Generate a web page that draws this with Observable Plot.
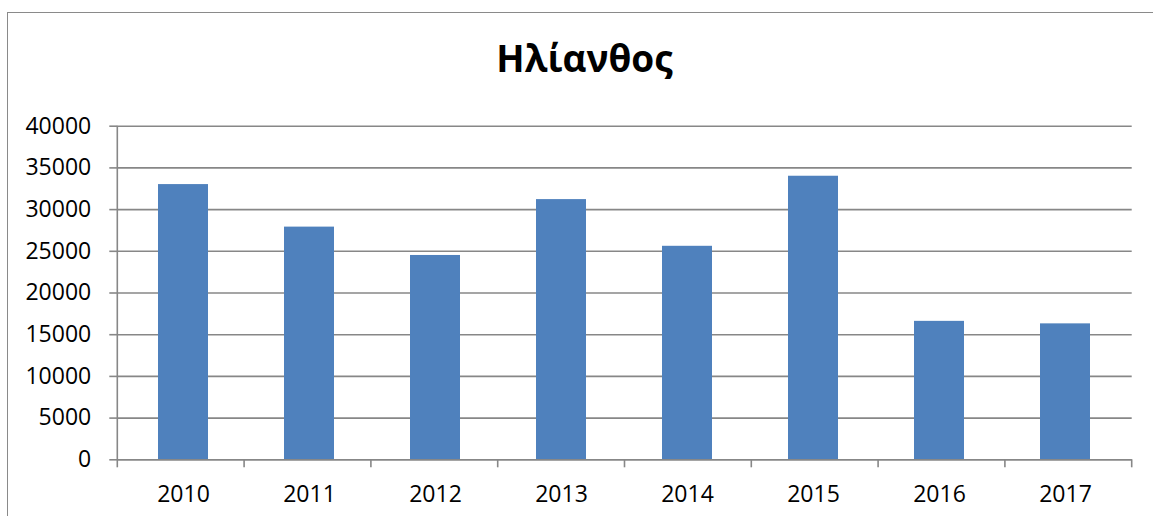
<!DOCTYPE html>
<html><head><meta charset="utf-8">
<script src="https://cdn.jsdelivr.net/npm/d3@7"></script>
<script src="https://cdn.jsdelivr.net/npm/@observablehq/plot@0.6"></script>
<style>
html,body{margin:0;padding:0;background:#fff;overflow:hidden;}
#wrap{position:relative;width:1153px;height:516px;overflow:hidden;font-family:"Open Sans",sans-serif;}
#border{position:absolute;left:7px;top:12px;width:1300px;height:700px;border:1.5px solid #8a8a8a;box-sizing:border-box;}
#title{position:absolute;left:0;top:39px;width:1169px;text-align:center;font-weight:bold;font-size:37px;line-height:37px;color:#000;}
#chart{position:absolute;left:0;top:100px;}
</style>
</head><body>
<div id="wrap">
  <div id="border"></div>
  <div id="title">Ηλίανθος</div>
  <div id="chart"></div>
</div>
<script>
const title = "Ηλίανθος";
const years = ["2010","2011","2012","2013","2014","2015","2016","2017"];
const values = [33000, 27900, 24500, 31200, 25600, 34000, 16600, 16300];
const yTicks = [0, 5000, 10000, 15000, 20000, 25000, 30000, 35000, 40000];

const data = years.map((y, i) => ({year: y, value: values[i]}));
const grey = "#878787";

function frameTicks(index, scales, vals, dims) {
  const {width, height, marginLeft, marginRight, marginTop, marginBottom} = dims;
  const n = years.length;
  const x0 = marginLeft, x1 = width - marginRight;
  const step = (x1 - x0) / n;
  const yb = height - marginBottom;
  const g = d3.create("svg:g").attr("stroke", grey).attr("stroke-width", 1.6);
  g.append("line").attr("x1", x0).attr("x2", x0).attr("y1", marginTop).attr("y2", yb);
  for (let i = 0; i <= n; i++) {
    const x = x0 + i * step;
    g.append("line").attr("x1", x).attr("x2", x).attr("y1", yb).attr("y2", yb + 8);
  }
  return g.node();
}

const chart = Plot.plot({
  width: 1153,
  height: 416,
  marginTop: 25.7,
  marginBottom: 56.7,
  marginLeft: 117.3,
  marginRight: 21.3,
  style: {fontFamily: "'Open Sans', sans-serif", fontSize: "23px", color: "#000", background: "transparent"},
  x: {domain: years, paddingInner: 0.6, paddingOuter: 0.3, align: 0.5},
  y: {domain: [0, 40000]},
  marks: [
    Plot.gridY(yTicks, {stroke: grey, strokeOpacity: 1, strokeWidth: 1.6}),
    Plot.barY(data, {x: "year", y: "value", fill: "#4F81BD"}),
    Plot.ruleY([0], {stroke: grey, strokeWidth: 1.6}),
    Plot.axisY(yTicks, {tickSize: 8, tickPadding: 18.6, stroke: grey, strokeWidth: 1.6, tickFormat: d => String(d), label: null, fill: "#000"}),
    Plot.axisX({tickSize: 0, tickPadding: 26, label: null, fill: "#000"}),
    frameTicks
  ]
});
document.getElementById("chart").appendChild(chart);
</script>
</body></html>
